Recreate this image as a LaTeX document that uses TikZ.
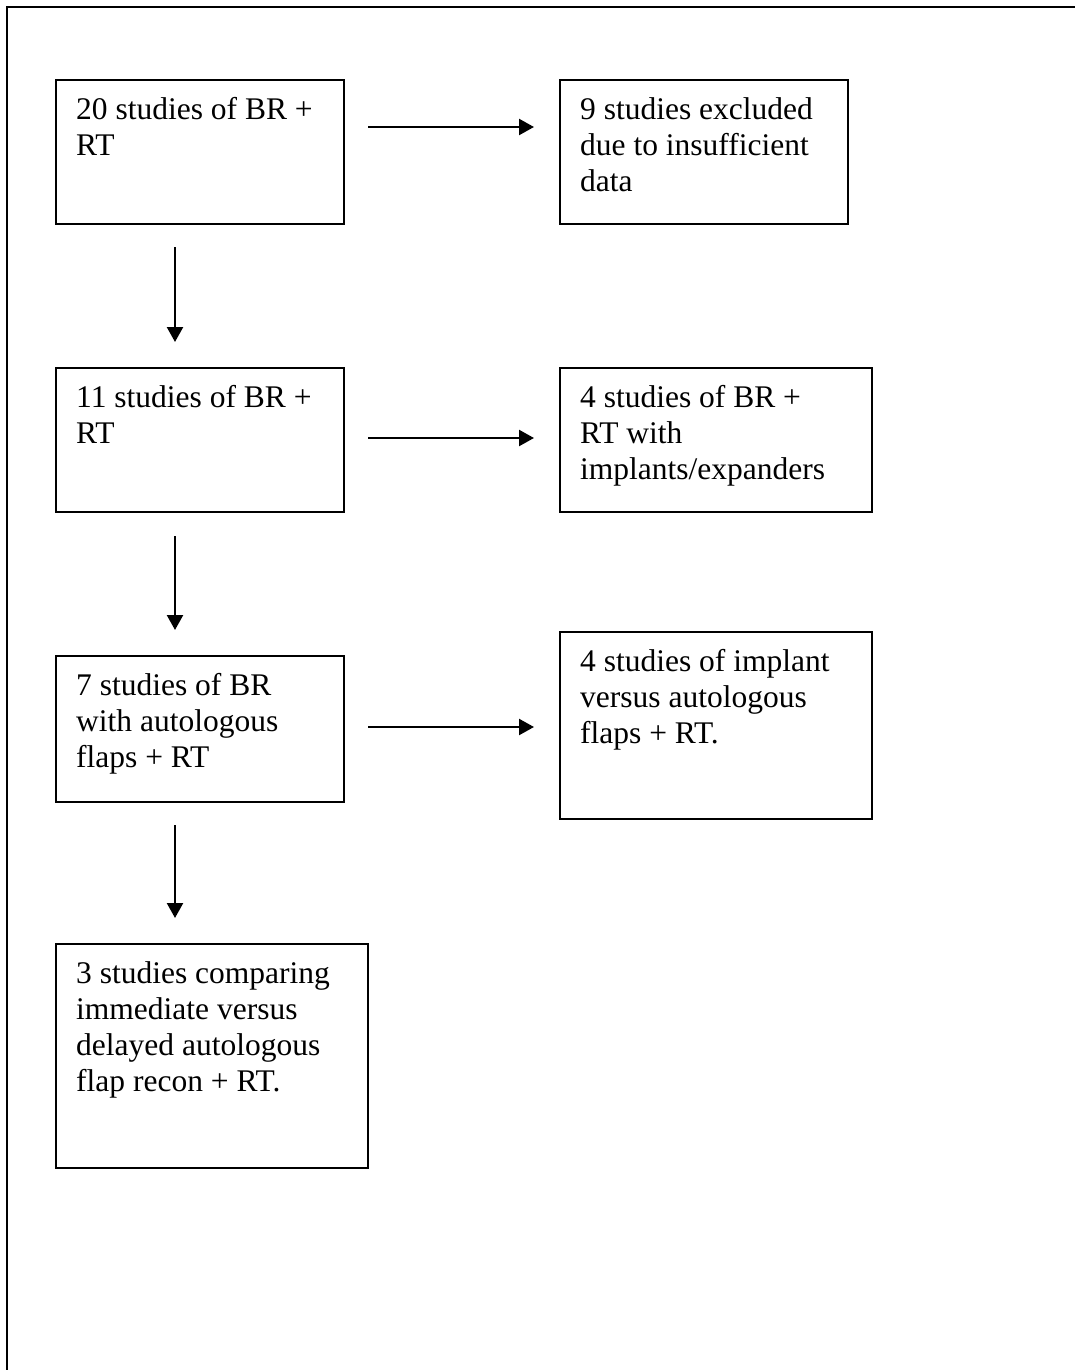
\documentclass[tikz,border=0pt]{standalone}
\usepackage{fontspec}
\setmainfont{Liberation Serif}
\usetikzlibrary{arrows.meta}
\begin{document}
\begin{tikzpicture}[x=1pt,y=1pt,
  box/.style={draw=black,line width=2.3pt,anchor=north west,inner sep=0pt,minimum width=#1},
  txt/.style={anchor=north west,inner sep=0pt,align=left,font=\fontsize{31.5}{36}\selectfont},
  arr/.style={line width=2.3pt,-{Triangle[length=15pt,width=16pt]}},
  frame/.style={line width=2.3pt}]
\useasboundingbox (0,0) rectangle (1075,-1370);
\draw[frame] (7,-1372) -- (7,-7) -- (1077,-7);
% boxes
\node[box=288pt,minimum height=144pt] (b1) at (55,-79) {};
\node[box=288pt,minimum height=144pt] (b9) at (559,-79) {};
\node[box=288pt,minimum height=144pt] (b11) at (55,-367) {};
\node[box=312pt,minimum height=144pt] (b4) at (559,-367) {};
\node[box=288pt,minimum height=146pt] (b7) at (55,-655) {};
\node[box=312pt,minimum height=187pt] (b4b) at (559,-631) {};
\node[box=312pt,minimum height=224pt] (b3) at (55,-943) {};
% texts (strut height 25.2pt -> first baseline 40pt below box top)
\node[txt] (t1) at ([shift={(21,-14.8)}]b1.north west) {\strut 20 studies of BR +\\RT};
\node[txt] (t9) at ([shift={(21,-14.8)}]b9.north west) {\strut 9 studies excluded\\due to insufficient\\data};
\node[txt] (t11) at ([shift={(21,-14.8)}]b11.north west) {\strut 11 studies of BR +\\RT};
\node[txt] (t4) at ([shift={(21,-14.8)}]b4.north west) {\strut 4 studies of BR +\\RT with\\implants/expanders};
\node[txt] (t7) at ([shift={(21,-14.8)}]b7.north west) {\strut 7 studies of BR\\with autologous\\flaps + RT};
\node[txt] (t4b) at ([shift={(21,-14.8)}]b4b.north west) {\strut 4 studies of implant\\versus autologous\\flaps + RT.};
\node[txt] (t3) at ([shift={(21,-14.8)}]b3.north west) {\strut 3 studies comparing\\immediate versus\\delayed autologous\\flap recon + RT.};
% horizontal arrows
\draw[arr] ([shift={(23,-48)}]b1.north east) -- ([shift={(-25,-48)}]b9.north west);
\draw[arr] ([shift={(23,-71)}]b11.north east) -- ([shift={(-25,-71)}]b4.north west);
\draw[arr] ([shift={(23,-72)}]b7.north east) -- ([shift={(-25,-96)}]b4b.north west);
% vertical arrows
\draw[arr] ([shift={(120,-22)}]b1.south west) -- ([shift={(120,25)}]b11.north west);
\draw[arr] ([shift={(120,-23)}]b11.south west) -- ([shift={(120,25)}]b7.north west);
\draw[arr] ([shift={(120,-22)}]b7.south west) -- ([shift={(120,25)}]b3.north west);
\end{tikzpicture}
\end{document}
